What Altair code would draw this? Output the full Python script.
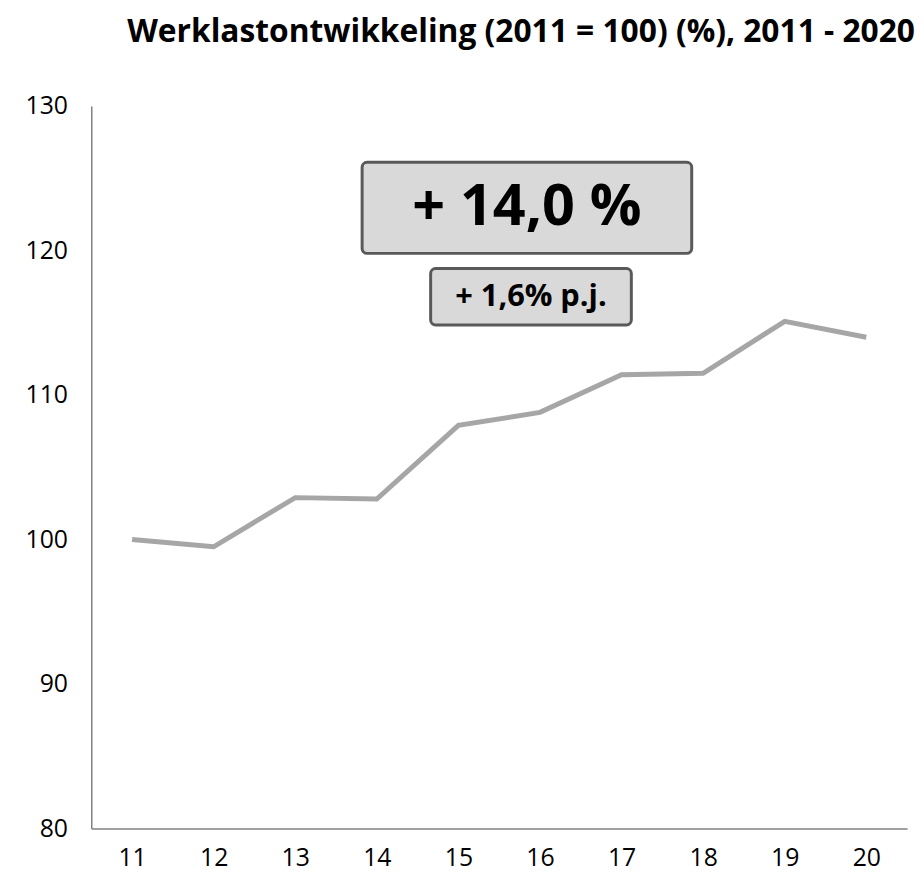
import altair as alt
import pandas as pd

years = [11, 12, 13, 14, 15, 16, 17, 18, 19, 20]
values = [100.0, 99.5, 102.9, 102.8, 107.9, 108.8, 111.4, 111.5, 115.1, 114.0]

title_text = "Werklastontwikkeling (2011 = 100) (%), 2011 - 2020"
big_label = "+ 14,0 %"
small_label = "+ 1,6% p.j."

# annotation boxes in data units
big_box = {"x": 13.82, "x2": 17.86, "y": 126.1, "y2": 119.8, "tx": 15.84, "ty": 122.95}
small_box = {"x": 14.66, "x2": 17.12, "y": 118.75, "y2": 114.85, "tx": 15.89, "ty": 116.8}

FONT = "Open Sans"
df = pd.DataFrame({"year": years, "value": values})

xscale = alt.Scale(domain=[10.5, 20.5], nice=False, zero=False)
yscale = alt.Scale(domain=[80, 130], nice=False, zero=False)

line = alt.Chart(df).mark_line(color="#a6a6a6", strokeWidth=5).encode(
    x=alt.X("year:Q", scale=xscale,
            axis=alt.Axis(values=years, format="d", title=None, grid=False, ticks=False,
                          domainColor="#808080", domainWidth=1.5, labelFontSize=25,
                          labelColor="#000000", labelFont=FONT, labelPadding=17)),
    y=alt.Y("value:Q", scale=yscale,
            axis=alt.Axis(values=[80, 90, 100, 110, 120, 130], title=None, grid=False, ticks=False,
                          domainColor="#808080", domainWidth=1.5, labelFontSize=25,
                          labelColor="#000000", labelFont=FONT, labelPadding=24)),
)

boxes_df = pd.DataFrame([
    dict(big_box, label=big_label),
    dict(small_box, label=small_label),
])

rects = alt.Chart(boxes_df).mark_rect(
    fill="#d9d9d9", stroke="#595959", strokeWidth=3, cornerRadius=5
).encode(
    x=alt.X("x:Q", scale=xscale), x2="x2:Q",
    y=alt.Y("y:Q", scale=yscale), y2="y2:Q",
)

big_txt = alt.Chart(boxes_df.iloc[[0]]).mark_text(
    fontSize=58, fontWeight="bold", font=FONT, color="#000000", baseline="middle"
).encode(x=alt.X("tx:Q", scale=xscale), y=alt.Y("ty:Q", scale=yscale), text="label:N")

small_txt = alt.Chart(boxes_df.iloc[[1]]).mark_text(
    fontSize=31, fontWeight="bold", font=FONT, color="#000000", baseline="middle"
).encode(x=alt.X("tx:Q", scale=xscale), y=alt.Y("ty:Q", scale=yscale), text="label:N")

chart = alt.layer(line, rects, big_txt, small_txt).properties(
    width=823, height=729,
    title=alt.TitleParams(title_text, fontSize=32, fontWeight="bold", font=FONT,
                          anchor="end", offset=46, dx=8, color="#000000"),
    autosize=alt.AutoSizeParams(type="none"),
    padding={"left": 84, "top": 95, "right": 9, "bottom": 45},
).configure_view(stroke=None)

chart.save("out.html", embed_options={"renderer": "svg", "actions": False})
